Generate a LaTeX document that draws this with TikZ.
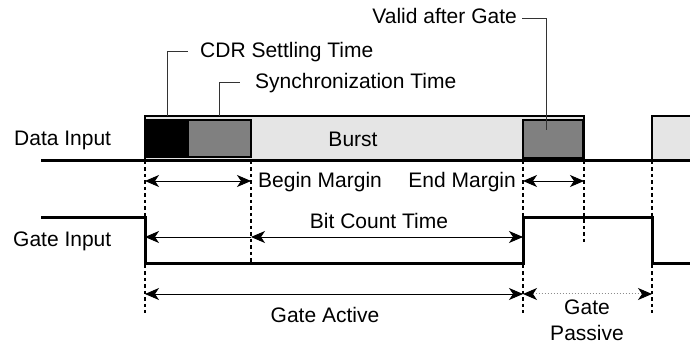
\documentclass[tikz,border=0pt]{standalone}
\usepackage{fontspec}
\setmainfont{Liberation Sans}
\usetikzlibrary{arrows.meta}
\begin{document}
\begin{tikzpicture}[x=1pt,y=-1pt,
  font=\fontsize{21}{25}\selectfont,
  sig/.style={line width=3pt},
  boxline/.style={line width=1.8pt},
  guide/.style={line width=1.6pt, dash pattern=on 3.5pt off 3pt},
  dim/.style={line width=0.9pt},
  leader/.style={line width=0.9pt, draw=black!80},
  lbl/.style={inner sep=0pt},
  >={Stealth[length=14pt,width=12pt,inset=4pt]}
]
\useasboundingbox (0,0) rectangle (690,344);
% burst boxes
\draw[boxline, fill=black!10] (145,116) rectangle (584,161);
\fill[black!10] (652,116) rectangle (691,161);
\draw[boxline] (691,116) -- (652,116) -- (652,161);
\draw[boxline, fill=black] (145,120) rectangle (188,157);
\draw[boxline, fill=black!50] (188,120) rectangle (251,157);
\draw[boxline, fill=black!50] (523,120) rectangle (583,158);
% data baseline
\draw[sig] (41,161) -- (690,161);
% gate signal
\draw[sig] (41,218) -- (145,218) -- (145,264) -- (523,264) -- (523,218) -- (652,218) -- (652,264) -- (690,264);
% guides
\coordinate (a1) at (145,161); \coordinate (a2) at (145,313);
\coordinate (b1) at (251,161); \coordinate (b2) at (251,264);
\coordinate (c1) at (523,161); \coordinate (c2) at (523,313);
\coordinate (d1) at (584,161); \coordinate (d2) at (584,245);
\coordinate (e1) at (652,161); \coordinate (e2) at (652,313);
\draw[guide] (a1) -- (a2);
\draw[guide] (b1) -- (b2);
\draw[guide] (c1) -- (c2);
\draw[guide] (d1) -- (d2);
\draw[guide] (e1) -- (e2);
% dimension arrows
\coordinate (bm1) at (145,181); \coordinate (bm2) at (251,181);
\coordinate (em1) at (523,181); \coordinate (em2) at (584,181);
\coordinate (bc1) at (145,237); \coordinate (bc2) at (251,237); \coordinate (bc3) at (523,237);
\coordinate (ga1) at (145,294); \coordinate (ga2) at (523,294); \coordinate (gp2) at (652,294);
\draw[dim,<->] (bm1) -- (bm2);
\draw[dim,<->] (em1) -- (em2);
\draw[dim,->] (bc2) -- (bc1);
\draw[dim,<->] (bc2) -- (bc3);
\draw[dim,<->] (ga1) -- (ga2);
\draw[draw=black!45, dotted, line width=1pt, {Stealth[length=14pt,width=12pt,inset=4pt,color=black]}-{Stealth[length=14pt,width=12pt,inset=4pt,color=black]}] (ga2) -- (gp2);
% leaders
\coordinate (l1a) at (167,116); \coordinate (l1b) at (167,51); \coordinate (l1c) at (188,51);
\coordinate (l2a) at (219,116); \coordinate (l2b) at (219,82); \coordinate (l2c) at (240,82);
\coordinate (l3a) at (546,130); \coordinate (l3b) at (546,18); \coordinate (l3c) at (522,18);
\draw[leader] (l1a) -- (l1b) -- (l1c);
\draw[leader] (l2a) -- (l2b) -- (l2c);
\draw[leader] (l3a) -- (l3b) -- (l3c);
% labels
\node[lbl, anchor=base west] (din) at (14,146) {Data Input};
\node[lbl, anchor=base west] (gin) at (13,247) {Gate Input};
\node[lbl, anchor=base] (burst) at (353,147) {Burst};
\node[lbl, anchor=base west] (cdr) at (200,58) {CDR Settling Time};
\node[lbl, anchor=base west] (sync) at (255,89) {Synchronization Time};
\node[lbl, anchor=base east] (valid) at (517,24) {Valid after Gate};
\node[lbl, anchor=base west] (beg) at (258,188) {Begin Margin};
\node[lbl, anchor=base east] (endm) at (516,188) {End Margin};
\node[lbl, anchor=base] (bct) at (379,229) {Bit Count Time};
\node[lbl, anchor=base] (gact) at (325,323) {Gate Active};
\node[lbl, anchor=base] (gp1) at (587,314) {Gate};
\node[lbl, anchor=base] (gp2t) at (587,340) {Passive};
\end{tikzpicture}
\end{document}
